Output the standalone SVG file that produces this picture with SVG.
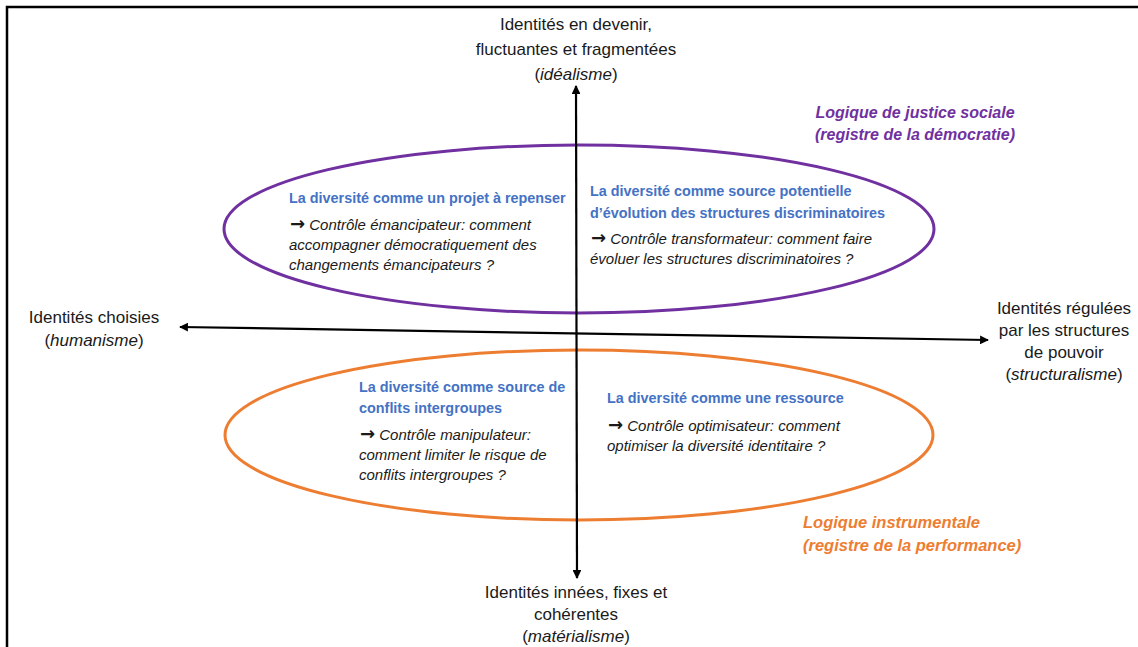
<svg xmlns="http://www.w3.org/2000/svg" width="1138" height="647" viewBox="0 0 1138 647">
<style>
.ax{font-family:"Liberation Sans",Arial,sans-serif;font-size:17px;fill:#1a1a1a;text-anchor:middle}
.t{font-family:"Liberation Sans",Arial,sans-serif;font-size:14.4px;font-weight:bold;fill:#4472C4}
.b{font-family:"Liberation Sans",Arial,sans-serif;font-size:15px;font-style:italic;fill:#1a1a1a}
.ar{font-family:"DejaVu Sans",sans-serif;font-style:normal;font-weight:bold;font-size:18px}
.lp{font-family:"Liberation Sans",Arial,sans-serif;font-size:16px;font-weight:bold;font-style:italic;fill:#7030A0;text-anchor:middle}
.lo{font-family:"Liberation Sans",Arial,sans-serif;font-size:16.5px;font-weight:bold;font-style:italic;fill:#ED7D31}
.axis{stroke:#000;stroke-width:2.2;fill:none}
</style>
<defs>
<marker id="ah" viewBox="0 0 10 10" refX="9" refY="5" markerWidth="4" markerHeight="4" orient="auto-start-reverse" markerUnits="strokeWidth">
<path d="M0,0 L10,5 L0,10 z" fill="#000"/>
</marker>
</defs>
<rect width="1138" height="647" fill="#fff"/>
<path d="M7,647 V7 H1138" fill="none" stroke="#000" stroke-width="2.5"/>

<g id="ellipse-justice">
<ellipse cx="579" cy="229" rx="355" ry="84" fill="none" stroke="#7030A0" stroke-width="3"/>
</g>
<g id="ellipse-instrumentale">
<ellipse cx="579" cy="435" rx="354" ry="85" fill="none" stroke="#ED7D31" stroke-width="3"/>
</g>

<g id="connectors">
<line class="axis" x1="576" y1="86" x2="577" y2="578" marker-start="url(#ah)" marker-end="url(#ah)"/>
<line class="axis" x1="180" y1="327" x2="988" y2="340" marker-start="url(#ah)" marker-end="url(#ah)"/>
</g>

<g id="axis-top">
<text class="ax" x="576" y="30">Identités en devenir,</text>
<text class="ax" x="576" y="55">fluctuantes et fragmentées</text>
<text class="ax" x="576" y="80">(<tspan font-style="italic">idéalisme</tspan>)</text>
</g>
<g id="axis-left">
<text class="ax" x="94" y="323">Identités choisies</text>
<text class="ax" x="94" y="346">(<tspan font-style="italic">humanisme</tspan>)</text>
</g>
<g id="axis-right">
<text class="ax" x="1064" y="314">Identités régulées</text>
<text class="ax" x="1064" y="336">par les structures</text>
<text class="ax" x="1064" y="358">de pouvoir</text>
<text class="ax" x="1064" y="380">(<tspan font-style="italic">structuralisme</tspan>)</text>
</g>
<g id="axis-bottom">
<text class="ax" x="576" y="598">Identités innées, fixes et</text>
<text class="ax" x="576" y="620">cohérentes</text>
<text class="ax" x="576" y="642">(<tspan font-style="italic">matérialisme</tspan>)</text>
</g>

<g id="logique-justice">
<text class="lp" x="915" y="118">Logique de justice sociale</text>
<text class="lp" x="915" y="140">(registre de la démocratie)</text>
</g>
<g id="logique-instrumentale">
<text class="lo" x="803" y="528">Logique instrumentale</text>
<text class="lo" x="803" y="551">(registre de la performance)</text>
</g>

<g id="q-projet">
<text class="t" x="289" y="203">La diversité comme un projet à repenser</text>
<text class="b" x="290" y="230"><tspan class="ar">→</tspan> Contrôle émancipateur: comment</text>
<text class="b" x="289" y="250">accompagner démocratiquement des</text>
<text class="b" x="289" y="270">changements émancipateurs ?</text>
</g>
<g id="q-evolution">
<text class="t" x="590" y="196">La diversité comme source potentielle</text>
<text class="t" x="590" y="218">d’évolution des structures discriminatoires</text>
<text class="b" x="591" y="244"><tspan class="ar">→</tspan> Contrôle transformateur: comment faire</text>
<text class="b" x="590" y="264">évoluer les structures discriminatoires ?</text>
</g>
<g id="q-conflits">
<text class="t" x="359" y="392">La diversité comme source de</text>
<text class="t" x="359" y="413">conflits intergroupes</text>
<text class="b" x="360" y="440"><tspan class="ar">→</tspan> Contrôle manipulateur:</text>
<text class="b" x="359" y="460">comment limiter le risque de</text>
<text class="b" x="359" y="480">conflits intergroupes ?</text>
</g>
<g id="q-ressource">
<text class="t" x="607" y="403">La diversité comme une ressource</text>
<text class="b" x="608" y="431"><tspan class="ar">→</tspan> Contrôle optimisateur: comment</text>
<text class="b" x="607" y="451">optimiser la diversité identitaire ?</text>
</g>
</svg>
